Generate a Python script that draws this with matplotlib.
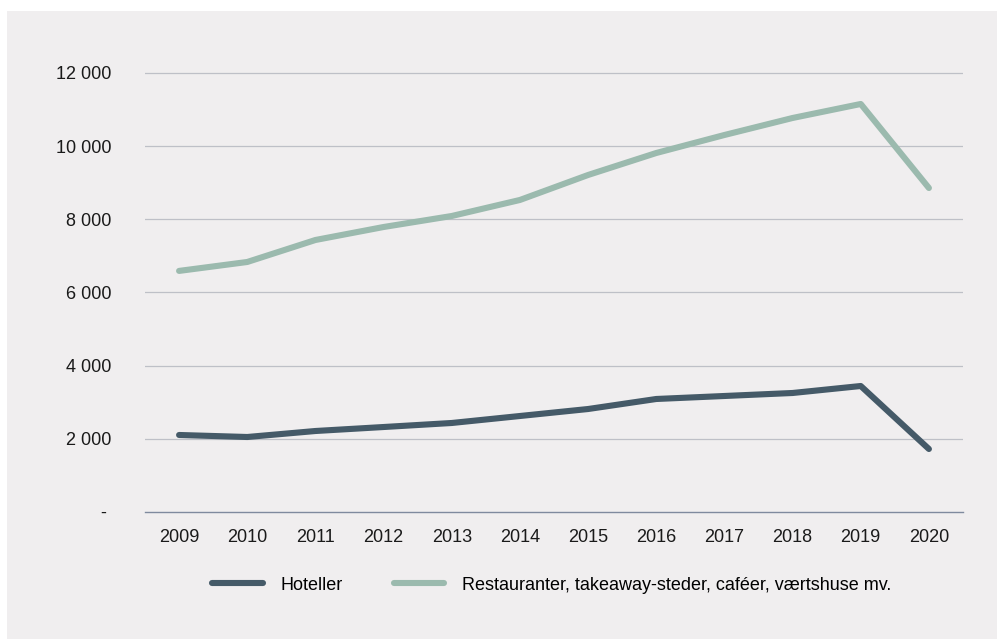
import matplotlib.pyplot as plt
from matplotlib.patches import Rectangle

plt.rcParams['font.family'] = ['Liberation Sans', 'DejaVu Sans']

years = ['2009', '2010', '2011', '2012', '2013', '2014',
         '2015', '2016', '2017', '2018', '2019', '2020']
hoteller = [2105, 2050, 2214, 2323, 2433, 2624, 2815, 3089, 3171, 3253, 3444, 1722]
restauranter = [6590, 6834, 7435, 7790, 8091, 8529, 9212, 9813, 10305, 10770, 11153, 8856]
y_ticks = [0, 2000, 4000, 6000, 8000, 10000, 12000]
y_labels = ['- ', '2 000', '4 000', '6 000', '8 000', '10 000', '12 000']

bg = '#f0eeef'
fig = plt.figure(figsize=(9.98, 6.39), dpi=100, facecolor='white')
# grey panel behind the chart
fig.patches.append(Rectangle((7 / 998, 0), 990 / 998, 628 / 639,
                             transform=fig.transFigure, facecolor=bg,
                             edgecolor='none', zorder=-10))

ax = fig.add_axes([145 / 998, 127 / 639, 818 / 998, 475.6 / 639])
ax.set_facecolor('none')

x = list(range(len(years)))
ax.plot(x, hoteller, color='#455a68', lw=4.4, solid_capstyle='round',
        solid_joinstyle='round', label='Hoteller', zorder=3)
ax.plot(x, restauranter, color='#9bbaae', lw=4.4, solid_capstyle='round',
        solid_joinstyle='round',
        label='Restauranter, takeaway-steder, caféer, værtshuse mv.', zorder=3)

ax.set_xlim(-0.5, len(years) - 0.5)
ax.set_ylim(0, 13000)
ax.set_xticks(x)
ax.set_xticklabels(years)
ax.set_yticks(y_ticks)
ax.set_yticklabels(y_labels)

for s in ['top', 'right', 'left']:
    ax.spines[s].set_visible(False)
ax.spines['bottom'].set_color('#7f8a9e')
ax.spines['bottom'].set_linewidth(1.0)

for v in y_ticks[1:]:
    ax.axhline(v, color='#bec0c7', lw=0.9, zorder=1)

ax.tick_params(axis='both', length=0, labelsize=13, colors='#1a1a1a')
ax.tick_params(axis='x', pad=12)
ax.tick_params(axis='y', pad=24)

ax.legend(loc='center', bbox_to_anchor=(552 / 998, (639 - 585) / 639),
          bbox_transform=fig.transFigure, ncol=2, frameon=False,
          fontsize=13, handlelength=2.8, handletextpad=1.0,
          columnspacing=2.8)

fig.savefig('out.png', dpi=100, facecolor='white')
